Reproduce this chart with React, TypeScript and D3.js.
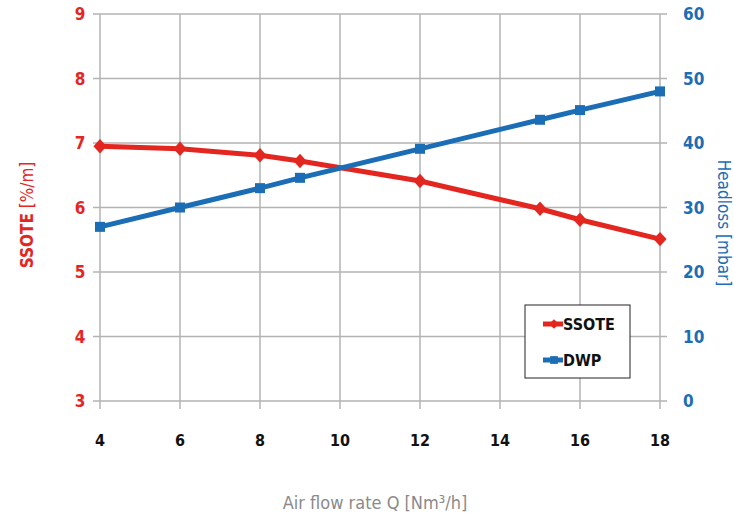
import React, { useEffect, useRef } from 'react';
import * as d3 from 'd3';

const airFlow = [4, 6, 8, 9, 12, 15, 16, 18];
const ssote = [6.95, 6.91, 6.81, 6.72, 6.41, 5.98, 5.81, 5.51];
const dwp = [27, 30, 33, 34.6, 39.1, 43.6, 45.1, 48];
const xTicks = [4, 6, 8, 10, 12, 14, 16, 18];
const leftTicks = [3, 4, 5, 6, 7, 8, 9];
const rightTicks = [0, 10, 20, 30, 40, 50, 60];

const RED = '#e3261f';
const BLUE = '#1b6db5';
const GRID = '#b3b3b3';
const FONT = '"Liberation Sans Narrow", "DejaVu Sans Condensed", "Open Sans", sans-serif';

const App: React.FC = () => {
  const svgRef = useRef<SVGSVGElement>(null);

  useEffect(() => {
    if (!svgRef.current) return;
    const svg = d3.select(svgRef.current);
    svg.selectAll('*').remove();

    const left = 100, right = 660, top = 14, bottom = 401;

    const x = d3.scaleLinear().domain([4, 18]).range([left, right]);
    const yL = d3.scaleLinear().domain([3, 9]).range([bottom, top]);
    const yR = d3.scaleLinear().domain([0, 60]).range([bottom, top]);

    // Grid
    const grid = svg.append('g');
    grid.selectAll('line.h')
      .data(leftTicks)
      .enter()
      .append('line')
      .attr('x1', left - 7)
      .attr('x2', right + 7)
      .attr('y1', d => yL(d))
      .attr('y2', d => yL(d))
      .attr('stroke', GRID)
      .attr('stroke-width', 1.5);

    grid.selectAll('line.v')
      .data(xTicks)
      .enter()
      .append('line')
      .attr('x1', d => x(d))
      .attr('x2', d => x(d))
      .attr('y1', top)
      .attr('y2', bottom + 8)
      .attr('stroke', GRID)
      .attr('stroke-width', 1.5);

    // Tick labels
    svg.append('g').selectAll('text')
      .data(leftTicks)
      .enter()
      .append('text')
      .attr('x', 80)
      .attr('y', d => yL(d))
      .attr('dy', '0.36em')
      .attr('text-anchor', 'middle')
      .style('font-family', FONT)
      .style('font-size', '17px')
      .style('font-weight', 'bold')
      .style('fill', RED)
      .text(d => d);

    svg.append('g').selectAll('text')
      .data(rightTicks)
      .enter()
      .append('text')
      .attr('x', 683)
      .attr('y', d => yR(d))
      .attr('dy', '0.36em')
      .attr('text-anchor', 'start')
      .style('font-family', FONT)
      .style('font-size', '17px')
      .style('font-weight', 'bold')
      .style('fill', BLUE)
      .text(d => d);

    svg.append('g').selectAll('text')
      .data(xTicks)
      .enter()
      .append('text')
      .attr('x', d => x(d))
      .attr('y', 446)
      .attr('text-anchor', 'middle')
      .style('font-family', FONT)
      .style('font-size', '16px')
      .style('font-weight', 'bold')
      .style('fill', '#111')
      .text(d => d);

    // Axis titles
    svg.append('text')
      .attr('x', 375)
      .attr('y', 509)
      .attr('text-anchor', 'middle')
      .style('font-family', FONT)
      .style('font-size', '18px')
      .style('fill', '#8a8a8a')
      .text('Air flow rate Q [Nm³/h]');

    const lt = svg.append('text')
      .attr('transform', 'translate(33,215) rotate(-90)')
      .attr('text-anchor', 'middle')
      .style('font-family', FONT)
      .style('font-size', '17px')
      .style('fill', RED);
    lt.append('tspan').style('font-weight', 'bold').text('SSOTE');
    lt.append('tspan').text(' [%/m]');

    svg.append('text')
      .attr('transform', 'translate(718,223) rotate(90)')
      .attr('text-anchor', 'middle')
      .style('font-family', FONT)
      .style('font-size', '17px')
      .style('fill', BLUE)
      .text('Headloss [mbar]');

    // Series
    const lineL = d3.line<number>().x((_, i) => x(airFlow[i])).y(d => yL(d));
    const lineR = d3.line<number>().x((_, i) => x(airFlow[i])).y(d => yR(d));

    svg.append('path')
      .attr('d', lineL(ssote))
      .attr('fill', 'none')
      .attr('stroke', RED)
      .attr('stroke-width', 5);

    svg.append('path')
      .attr('d', lineR(dwp))
      .attr('fill', 'none')
      .attr('stroke', BLUE)
      .attr('stroke-width', 5);

    const diamond = d3.symbol().type(d3.symbolDiamond2).size(110);
    const square = d3.symbol().type(d3.symbolSquare).size(100);

    svg.append('g').selectAll('path')
      .data(ssote)
      .enter()
      .append('path')
      .attr('d', diamond() as string)
      .attr('transform', (d, i) => `translate(${x(airFlow[i])},${yL(d)}) scale(1,1.1)`)
      .attr('fill', RED);

    svg.append('g').selectAll('path')
      .data(dwp)
      .enter()
      .append('path')
      .attr('d', square() as string)
      .attr('transform', (d, i) => `translate(${x(airFlow[i])},${yR(d)})`)
      .attr('fill', BLUE);

    // Legend
    const lg = svg.append('g').attr('transform', 'translate(525,305)');
    lg.append('rect')
      .attr('width', 105)
      .attr('height', 73)
      .attr('fill', '#fff')
      .attr('stroke', '#222')
      .attr('stroke-width', 1);

    const items = [
      { name: 'SSOTE', color: RED, type: d3.symbolDiamond2, y: 19 },
      { name: 'DWP', color: BLUE, type: d3.symbolSquare, y: 55 },
    ];
    items.forEach(it => {
      lg.append('line')
        .attr('x1', 18)
        .attr('x2', 38)
        .attr('y1', it.y)
        .attr('y2', it.y)
        .attr('stroke', it.color)
        .attr('stroke-width', 5);
      lg.append('path')
        .attr('d', d3.symbol().type(it.type).size(60)() as string)
        .attr('transform', `translate(29,${it.y})`)
        .attr('fill', it.color);
      lg.append('text')
        .attr('x', 38)
        .attr('y', it.y)
        .attr('dy', '0.36em')
        .style('font-family', FONT)
        .style('font-size', '16px')
        .style('font-weight', 'bold')
        .style('fill', '#111')
        .text(it.name);
    });
  }, []);

  return (
    <svg
      ref={svgRef}
      width={734}
      height={520}
      style={{ position: 'absolute', left: 0, top: 0, background: '#fff' }}
    />
  );
};

export default App;
